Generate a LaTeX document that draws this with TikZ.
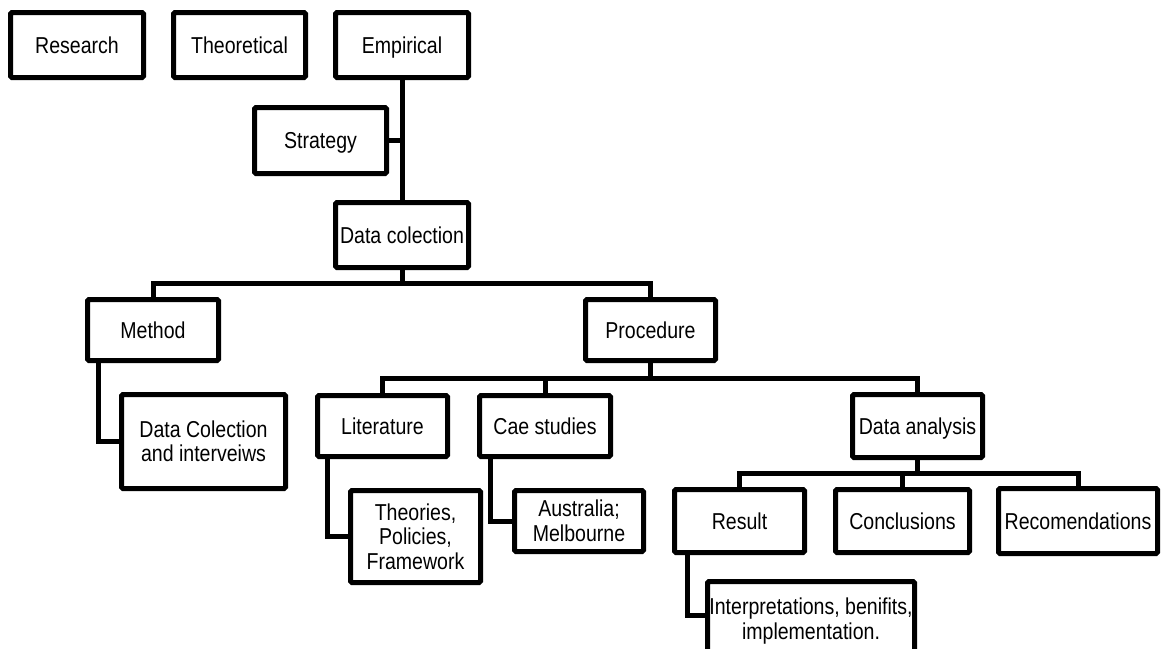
\documentclass[tikz,border=0pt]{standalone}
\usepackage{fontspec}
\setmainfont{Liberation Sans}[FakeStretch=0.85]
\begin{document}
\begin{tikzpicture}[x=1pt,y=-1pt,
  box/.style={draw=black, line width=5pt, rounded corners=1.5pt, inner sep=0pt,
    align=center, fill=white, font=\fontsize{23pt}{24.5pt}\selectfont},
  one/.style={text height=16.5pt, text depth=0pt},
  conn/.style={draw=black, line width=5pt, line cap=rect, line join=miter}]
\useasboundingbox (0,0) rectangle (1161,648);
\clip (0,0) rectangle (1161,648);
\fill[white] (0,0) rectangle (1161,648);
% top row
\node[box, one, minimum width=133pt, minimum height=65pt] (res) at (77,45) {Research};
\node[box, one, minimum width=132pt, minimum height=65pt] (theo) at (239.5,45) {Theoretical};
\node[box, one, minimum width=133pt, minimum height=65pt] (emp) at (402,45) {Empirical};
\node[box, one, minimum width=132pt, minimum height=66pt] (strat) at (320.5,140.5) {Strategy};
\node[box, one, minimum width=133pt, minimum height=65pt] (dc) at (402,235) {Data colection};
% level 2
\node[box, one, minimum width=131pt, minimum height=61pt] (meth) at (153,330) {Method};
\node[box, one, minimum width=130pt, minimum height=61pt] (proc) at (650.5,330) {Procedure};
\node[box, minimum width=164pt, minimum height=94pt] (dci) at (203.5,441.5) {Data Colection\\and interveiws};
% level 3
\node[box, one, minimum width=130pt, minimum height=61pt] (lit) at (382.5,426) {Literature};
\node[box, one, minimum width=131pt, minimum height=61pt] (cae) at (545,426) {Cae studies};
\node[box, one, minimum width=130pt, minimum height=63pt] (da) at (917.5,426) {Data analysis};
\node[box, minimum width=130pt, minimum height=92pt] (theor) at (415.5,536.5) {Theories,\\Policies,\\Framework};
\node[box, minimum width=129pt, minimum height=61pt] (aus) at (579,521) {Australia;\\Melbourne};
% level 4
\node[box, one, minimum width=130pt, minimum height=63pt] (resu) at (739.5,521) {Result};
\node[box, one, minimum width=134pt, minimum height=63pt] (concl) at (902.5,521) {Conclusions};
\node[box, one, minimum width=159pt, minimum height=65pt] (reco) at (1078,521) {Recomendations};
\node[box, minimum width=207pt, minimum height=79pt] (interp) at (811,621) {Interpretations, benifits,\\implementation.};
% connectors
\coordinate (bus1) at (402,283);
\coordinate (bus2) at (650.5,378);
\coordinate (bus3) at (917.5,473);
\draw[conn] (emp.south) -- (dc.north);
\draw[conn] (strat.east) -- (strat.east -| emp.south);
\draw[conn] (dc.south) -- (bus1);
\draw[conn] (meth.north) -- (meth.north |- bus1) -- (proc.north |- bus1) -- (proc.north);
\draw[conn] ([xshift=13pt]meth.south west) |- (dci.west);
\draw[conn] (proc.south) -- (bus2);
\draw[conn] (lit.north) -- (lit.north |- bus2) -- (da.north |- bus2) -- (da.north);
\draw[conn] (cae.north) -- (cae.north |- bus2);
\draw[conn] ([xshift=12pt]lit.south west) |- (theor.west);
\draw[conn] ([xshift=13pt]cae.south west) |- (aus.west);
\draw[conn] (da.south) -- (bus3);
\draw[conn] (resu.north) -- (resu.north |- bus3) -- (reco.north |- bus3) -- (reco.north);
\draw[conn] (concl.north) -- (concl.north |- bus3);
\draw[conn] ([xshift=15pt]resu.south west) |- ([yshift=6pt]interp.west);
\end{tikzpicture}
\end{document}
